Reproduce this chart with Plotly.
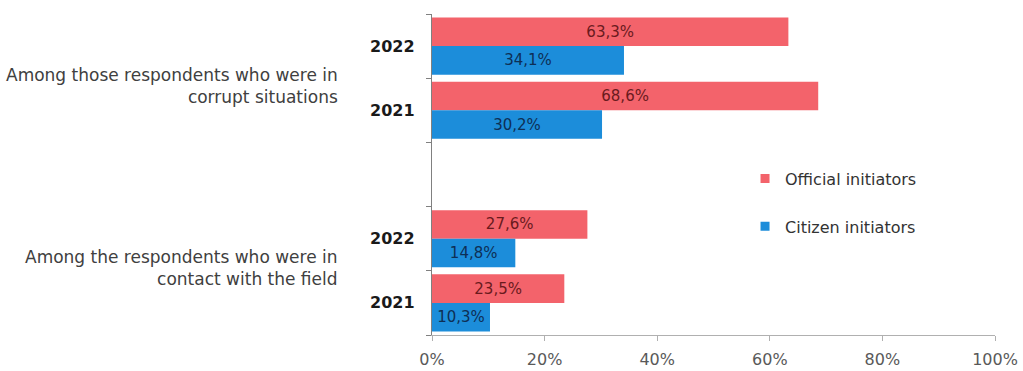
import plotly.graph_objects as go

# Row positions (top to bottom); slot 2 is left empty as a spacer between groups
row_pos = [0, 1, 3, 4]
year_labels = ["2022", "2021", "2022", "2021"]
group_labels = [
    "Among those respondents who were in<br>corrupt situations",
    "Among the respondents who were in<br>contact with the field",
]
official = [63.3, 68.6, 27.6, 23.5]
citizen = [34.1, 30.2, 14.8, 10.3]
x_ticks = [0, 20, 40, 60, 80, 100]
series_names = ["Official initiators", "Citizen initiators"]


def fmt(v):
    return f"{v:.1f}".replace(".", ",") + "%"


RED = "#F3636B"
BLUE = "#1C8DDA"
FONT = "DejaVu Sans"

fig = go.Figure()
for vals, name, color, tcolor in [
    (official, series_names[0], RED, "#6A1A1D"),
    (citizen, series_names[1], BLUE, "#0E2F55"),
]:
    fig.add_trace(go.Bar(
        y=row_pos, x=vals, orientation="h", name=name,
        marker=dict(color=color, line=dict(width=0)),
        text=[fmt(v) for v in vals], textposition="inside",
        insidetextanchor="middle",
        textfont=dict(family=FONT, size=15, color=tcolor),
        showlegend=False,
    ))

# Legend entries with small square swatches
for i, (name, color) in enumerate(zip(series_names, [RED, BLUE])):
    fig.add_trace(go.Scatter(
        x=[None], y=[None], mode="markers", name=name,
        marker=dict(symbol="square", size=9, color=color),
        legendgroup=f"g{i}", showlegend=True,
    ))

annotations = []
for pos, yl in zip(row_pos, year_labels):
    annotations.append(dict(
        x=-0.027, xref="paper", y=pos, yref="y", text=f"<b>{yl}</b>",
        showarrow=False, xanchor="right", yanchor="middle",
        font=dict(family=FONT, size=16, color="#1a1a1a"),
    ))
for ypos, gl in zip([0.62, 3.46], group_labels):
    annotations.append(dict(
        x=-0.163, xref="paper", y=ypos, yref="y", text=gl, align="right",
        showarrow=False, xanchor="right", yanchor="middle",
        font=dict(family=FONT, size=17, color="#404040"),
    ))

fig.update_layout(
    width=1023, height=371,
    margin=dict(l=432, r=28, t=14, b=36),
    paper_bgcolor="white", plot_bgcolor="white",
    barmode="group", bargap=0.11, bargroupgap=0,
    uniformtext=dict(minsize=15, mode="show"),
    font=dict(family=FONT, color="#404040"),
    xaxis=dict(
        range=[0, 100], tickvals=x_ticks, ticktext=[f"{t}%" for t in x_ticks],
        showgrid=False, zeroline=False, showline=True, linecolor="#b0b0b0",
        ticks="outside", ticklen=5, tickcolor="#b0b0b0",
        ticklabelstandoff=5, automargin=False,
        tickfont=dict(family=FONT, size=16, color="#595959"),
    ),
    yaxis=dict(
        range=[4.5, -0.5], tickvals=[-0.5, 0.5, 1.5, 2.5, 3.5, 4.5],
        ticktext=[""] * 6, showgrid=False, zeroline=False,
        showline=True, linecolor="#808080", automargin=False,
        ticks="outside", ticklen=5, tickcolor="#808080",
    ),
    legend=dict(
        x=0.556, y=0.54, xanchor="left", yanchor="top",
        font=dict(family=FONT, size=16, color="#333333"),
        tracegroupgap=24, bgcolor="rgba(0,0,0,0)",
        itemwidth=30,
    ),
    annotations=annotations,
    showlegend=True,
)

fig.write_html("out.html")
